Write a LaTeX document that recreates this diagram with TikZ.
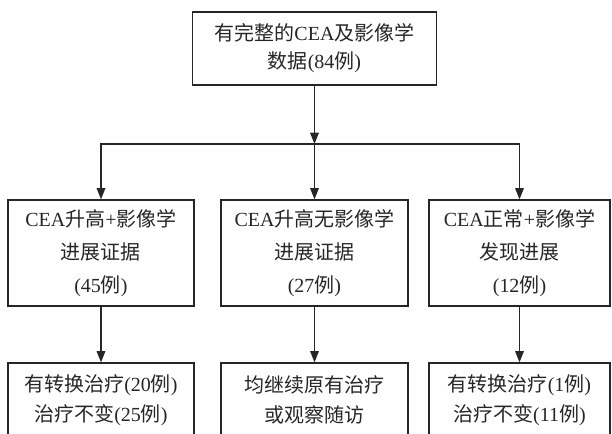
\documentclass[tikz,border=0pt]{standalone}
\usepackage{fontspec}
\setmainfont{Liberation Serif}
\newfontfamily\cjk{Noto Sans CJK SC}
\usetikzlibrary{arrows.meta}
\newcommand{\zh}[1]{{\cjk #1}}
\definecolor{ink}{gray}{0.15}
\begin{document}
\begin{tikzpicture}[x=0.75pt,y=-0.75pt,
  box/.style={draw=ink, line width=0.9pt, inner sep=0pt, align=center, text=ink},
  conn/.style={draw=ink, line width=0.9pt, -{Triangle[length=8.5pt,width=6.5pt]}},
  plain/.style={draw=ink, line width=0.9pt}]
\useasboundingbox (0,0) rectangle (612,434);
\clip (0,0) rectangle (612,434);
\node[box, minimum width=244*0.75pt, minimum height=73*0.75pt,
      font=\fontsize{15}{21}\selectfont] (top) at (314.5,48.5)
  {\zh{有完整的}CEA\zh{及影像学}\\ \zh{数据}(84\zh{例})};
\coordinate (j) at (314.5,144);
\node[box, minimum width=186*0.75pt, minimum height=106*0.75pt,
      font=\fontsize{15}{24.75}\selectfont] (b1) at (101,253)
  {CEA\zh{升高}+\zh{影像学}\\ \zh{进展证据}\\ (45\zh{例})};
\node[box, minimum width=187*0.75pt, minimum height=106*0.75pt,
      font=\fontsize{15}{24.75}\selectfont] (b2) at (314.5,253)
  {CEA\zh{升高无影像学}\\ \zh{进展证据}\\ (27\zh{例})};
\node[box, minimum width=181*0.75pt, minimum height=106*0.75pt,
      font=\fontsize{15}{24.75}\selectfont] (b3) at (519.5,253)
  {CEA\zh{正常}+\zh{影像学}\\ \zh{发现进展}\\ (12\zh{例})};
\node[box, minimum width=186*0.75pt, minimum height=74*0.75pt,
      font=\fontsize{15}{22.5}\selectfont] (c1) at (101,400)
  {\zh{有转换治疗}(20\zh{例})\\ \zh{治疗不变}(25\zh{例})};
\node[box, minimum width=187*0.75pt, minimum height=74*0.75pt,
      font=\fontsize{15}{22.5}\selectfont] (c2) at (314.5,400)
  {\zh{均继续原有治疗}\\ \zh{或观察随访}};
\node[box, minimum width=181*0.75pt, minimum height=74*0.75pt,
      font=\fontsize{15}{22.5}\selectfont] (c3) at (519.5,400)
  {\zh{有转换治疗}(1\zh{例})\\ \zh{治疗不变}(11\zh{例})};
\draw[conn] (top) -- (j);
\draw[conn] (j) -| (b1.north);
\draw[conn] (j) -- (b2.north);
\draw[conn] (j) -| (b3.north);
\draw[conn] (b1) -- (c1);
\draw[conn] (b2) -- (c2);
\draw[conn] (b3) -- (c3);
\end{tikzpicture}
\end{document}
